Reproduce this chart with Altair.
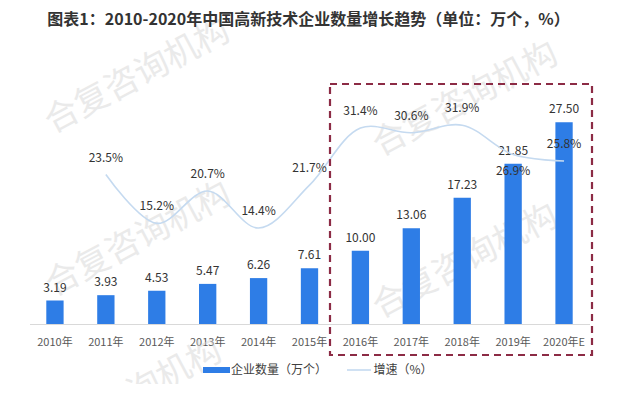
import altair as alt
import pandas as pd

years = ["2010年", "2011年", "2012年", "2013年", "2014年", "2015年",
         "2016年", "2017年", "2018年", "2019年", "2020年E"]
counts = [3.19, 3.93, 4.53, 5.47, 6.26, 7.61, 10.00, 13.06, 17.23, 21.85, 27.50]
growth = [None, 23.5, 15.2, 20.7, 14.4, 21.7, 31.4, 30.6, 31.9, 26.9, 25.8]

title_text = "图表1：2010-2020年中国高新技术企业数量增长趋势（单位：万个，%）"
legend_bar = "企业数量（万个）"
legend_line = "增速（%）"
watermark = "合复咨询机构"

FONT = "Noto Sans CJK SC"
BAR_COLOR = "#2E7DE6"
LINE_COLOR = "#C5DAF0"
BOX_COLOR = "#8C2B45"

df = pd.DataFrame({"year": years, "count": counts, "growth": growth})

W, H = 560, 220

x = alt.X("year:N", sort=years, title=None,
          scale=alt.Scale(paddingInner=0.66, paddingOuter=0.33),
          axis=alt.Axis(labelAngle=0, ticks=False, domainColor="#D9D9D9",
                        labelFont=FONT, labelFontSize=11, labelColor="#595959",
                        labelPadding=12))

ybar = alt.Y("count:Q", scale=alt.Scale(domain=[0, 30]), axis=None)
yline = alt.Y("growth:Q", scale=alt.Scale(domain=[-1.92, 35.5]), axis=None)

base = alt.Chart(df)

bars = base.mark_bar(color=BAR_COLOR).encode(x=x, y=ybar)
bar_text = base.mark_text(baseline="bottom", dy=-6, font=FONT, fontSize=12,
                          color="#333333").encode(
    x=x, y=ybar, text=alt.Text("count:Q", format=".2f"))

line_df = base.transform_filter("isValid(datum.growth)").transform_calculate(
    label="format(datum.growth, '.1f') + '%'")
line = line_df.mark_line(color=LINE_COLOR, strokeWidth=1.6,
                         interpolate="catmull-rom").encode(x=x, y=yline)
line_text_above = line_df.transform_filter("datum.year != '2019年'").mark_text(
    font=FONT, fontSize=12, color="#333333", dy=-17).encode(
    x=x, y=yline, text="label:N")
line_text_below = line_df.transform_filter("datum.year == '2019年'").mark_text(
    font=FONT, fontSize=12, color="#333333", dy=16).encode(
    x=x, y=yline, text="label:N")

lines_layer = alt.layer(line, line_text_above, line_text_below)
bars_layer = alt.layer(bars, bar_text)

# dashed highlight box (2016-2020)
box = alt.Chart(pd.DataFrame({"k": [0]})).mark_rect(
    fill=None, stroke=BOX_COLOR, strokeWidth=2.2, strokeDash=[7, 5]).encode(
    x=alt.value(300.5), x2=alt.value(562.5), y=alt.value(-20), y2=alt.value(251))

# watermarks
wm_df = pd.DataFrame({"t": [watermark] * 5,
                      "px": [109, 436, 436, 100, 108],
                      "py": [136, -4, 158, 293, -27]})
wm = alt.Chart(wm_df).mark_text(font=FONT, fontSize=34, color="#D6D6D6",
                                opacity=0.5, angle=332).encode(
    x=alt.X("px:Q", scale=None), y=alt.Y("py:Q", scale=None), text="t:N")

# title
t_df = pd.DataFrame({"k": [0]})
title = alt.Chart(t_df).mark_text(font=FONT, fontSize=16, fontWeight="bold",
                                  color="#333333").encode(
    x=alt.value(279), y=alt.value(-84), text=alt.value(title_text))

# legend
leg_df = pd.DataFrame({"k": [0]})
leg_rect = alt.Chart(leg_df).mark_rect(color=BAR_COLOR).encode(
    x=alt.value(173.5), x2=alt.value(200.5), y=alt.value(263), y2=alt.value(269))
leg_t1 = alt.Chart(leg_df).mark_text(align="left", font=FONT, fontSize=12,
                                     color="#404040").encode(
    x=alt.value(201.5), y=alt.value(266), text=alt.value(legend_bar))
leg_line = alt.Chart(leg_df).mark_rule(color=LINE_COLOR, strokeWidth=1.6).encode(
    x=alt.value(317.5), x2=alt.value(341.5), y=alt.value(266))
leg_t2 = alt.Chart(leg_df).mark_text(align="left", font=FONT, fontSize=12,
                                     color="#404040").encode(
    x=alt.value(344), y=alt.value(266), text=alt.value(legend_line))

chart = alt.layer(
    wm, bars_layer, lines_layer, box, title, leg_rect, leg_t1, leg_line, leg_t2
).resolve_scale(y="independent").properties(
    width=W, height=H,
    autosize=alt.AutoSizeParams(type="none"),
    padding={"left": 21.5, "top": 96, "right": 20, "bottom": 60},
).configure_view(stroke=None)

chart.save("out.html", embed_options={"renderer": "svg", "actions": False})
